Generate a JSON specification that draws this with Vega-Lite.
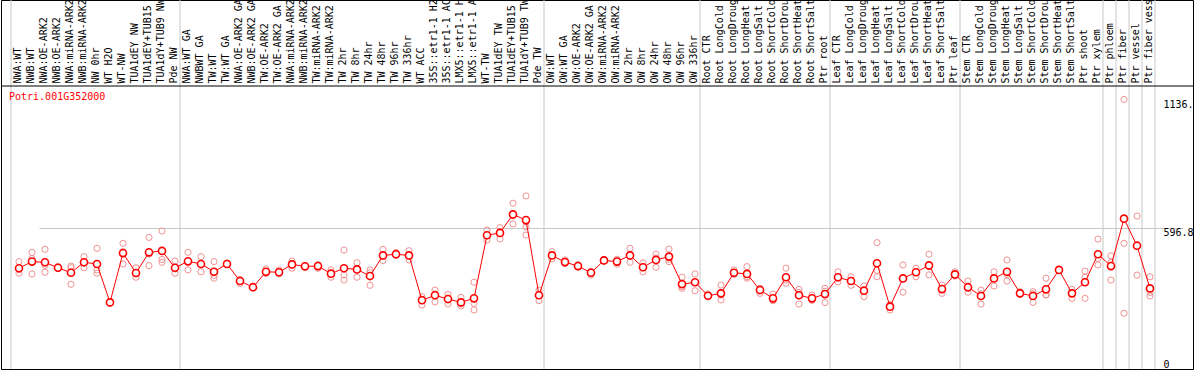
{
  "$schema": "https://vega.github.io/schema/vega-lite/v6.json",
  "width": 1192,
  "height": 369,
  "padding": {"left": 1, "top": 0, "right": 1, "bottom": 1},
  "autosize": {"type": "none"},
  "background": "white",
  "config": {"view": {"stroke": "black", "strokeWidth": 1}},
  "datasets": {
    "samples": [
      {"i":1,"sample":"NWA:WT","group":1,"mean":425},
      {"i":2,"sample":"NWB:WT","group":1,"mean":453},
      {"i":3,"sample":"NWA:OE-ARK2","group":1,"mean":450},
      {"i":4,"sample":"NWB:OE-ARK2","group":1,"mean":427},
      {"i":5,"sample":"NWA:miRNA-ARK2","group":1,"mean":406},
      {"i":6,"sample":"NWB:miRNA-ARK2","group":1,"mean":450},
      {"i":7,"sample":"NW 0hr","group":1,"mean":443},
      {"i":8,"sample":"WT H2O","group":1,"mean":281},
      {"i":9,"sample":"WT-NW","group":1,"mean":489},
      {"i":10,"sample":"TUA1dEY NW","group":1,"mean":405},
      {"i":11,"sample":"TUA1dEY+TUB15 NW","group":1,"mean":492},
      {"i":12,"sample":"TUA1dY+TUB9 NW","group":1,"mean":498},
      {"i":13,"sample":"Pde NW","group":1,"mean":427},
      {"i":14,"sample":"NWA:WT GA","group":2,"mean":454},
      {"i":15,"sample":"NWBWT GA","group":2,"mean":443},
      {"i":16,"sample":"TW:WT","group":2,"mean":410},
      {"i":17,"sample":"TW:WT GA","group":2,"mean":443},
      {"i":18,"sample":"NWA:OE-ARK2 GA","group":2,"mean":371},
      {"i":19,"sample":"NWB:OE-ARK2 GA","group":2,"mean":345},
      {"i":20,"sample":"TW:OE-ARK2","group":2,"mean":410},
      {"i":21,"sample":"TW:OE-ARK2 GA","group":2,"mean":408},
      {"i":22,"sample":"NWA:miRNA-ARK2 GA","group":2,"mean":441},
      {"i":23,"sample":"NWB:miRNA-ARK2 GA","group":2,"mean":433},
      {"i":24,"sample":"TW:miRNA-ARK2","group":2,"mean":434},
      {"i":25,"sample":"TW:miRNA-ARK2 ","group":2,"mean":402},
      {"i":26,"sample":"TW 2hr","group":2,"mean":425},
      {"i":27,"sample":"TW 8hr","group":2,"mean":420},
      {"i":28,"sample":"TW 24hr","group":2,"mean":392},
      {"i":29,"sample":"TW 48hr","group":2,"mean":479},
      {"i":30,"sample":"TW 96hr","group":2,"mean":484},
      {"i":31,"sample":"TW 336hr","group":2,"mean":479},
      {"i":32,"sample":"WT ACC","group":2,"mean":290},
      {"i":33,"sample":"35S::etr1-1 H2O","group":2,"mean":311},
      {"i":34,"sample":"35S::etr1-1 ACC","group":2,"mean":295},
      {"i":35,"sample":"LMX5::etr1-1 H2O","group":2,"mean":281},
      {"i":36,"sample":"LMX5::etr1-1 ACC","group":2,"mean":298},
      {"i":37,"sample":"WT-TW","group":2,"mean":564},
      {"i":38,"sample":"TUA1dEY TW","group":2,"mean":574},
      {"i":39,"sample":"TUA1dEY+TUB15 TW","group":2,"mean":652},
      {"i":40,"sample":"TUA1dY+TUB9 TW","group":2,"mean":628},
      {"i":41,"sample":"Pde TW","group":2,"mean":311},
      {"i":42,"sample":"OW:WT","group":3,"mean":479},
      {"i":43,"sample":"OW:WT GA","group":3,"mean":451},
      {"i":44,"sample":"OW:OE-ARK2","group":3,"mean":434},
      {"i":45,"sample":"OW:OE-ARK2 GA","group":3,"mean":406},
      {"i":46,"sample":"OW:miRNA-ARK2","group":3,"mean":458},
      {"i":47,"sample":"OW:miRNA-ARK2 ","group":3,"mean":453},
      {"i":48,"sample":"OW 2hr","group":3,"mean":479},
      {"i":49,"sample":"OW 8hr","group":3,"mean":429},
      {"i":50,"sample":"OW 24hr","group":3,"mean":460},
      {"i":51,"sample":"OW 48hr","group":3,"mean":474},
      {"i":52,"sample":"OW 96hr","group":3,"mean":358},
      {"i":53,"sample":"OW 336hr","group":3,"mean":366},
      {"i":54,"sample":"Root CTR","group":4,"mean":309},
      {"i":55,"sample":"Root LongCold","group":4,"mean":319},
      {"i":56,"sample":"Root LongDrought","group":4,"mean":406},
      {"i":57,"sample":"Root LongHeat","group":4,"mean":401},
      {"i":58,"sample":"Root LongSalt","group":4,"mean":333},
      {"i":59,"sample":"Root ShortCold","group":4,"mean":298},
      {"i":60,"sample":"Root ShortDrought","group":4,"mean":387},
      {"i":61,"sample":"Root ShortHeat","group":4,"mean":311},
      {"i":62,"sample":"Root ShortSalt","group":4,"mean":298},
      {"i":63,"sample":"Ptr root","group":4,"mean":316},
      {"i":64,"sample":"Leaf CTR","group":5,"mean":387},
      {"i":65,"sample":"Leaf LongCold","group":5,"mean":371},
      {"i":66,"sample":"Leaf LongDrought","group":5,"mean":330},
      {"i":67,"sample":"Leaf LongHeat","group":5,"mean":446},
      {"i":68,"sample":"Leaf LongSalt","group":5,"mean":263},
      {"i":69,"sample":"Leaf ShortCold","group":5,"mean":382},
      {"i":70,"sample":"Leaf ShortDrought","group":5,"mean":408},
      {"i":71,"sample":"Leaf ShortHeat","group":5,"mean":437},
      {"i":72,"sample":"Leaf ShortSalt","group":5,"mean":337},
      {"i":73,"sample":"Ptr leaf","group":5,"mean":399},
      {"i":74,"sample":"Stem CTR","group":6,"mean":345},
      {"i":75,"sample":"Stem LongCold","group":6,"mean":308},
      {"i":76,"sample":"Stem LongDrought","group":6,"mean":382},
      {"i":77,"sample":"Stem LongHeat","group":6,"mean":410},
      {"i":78,"sample":"Stem LongSalt","group":6,"mean":319},
      {"i":79,"sample":"Stem ShortCold","group":6,"mean":308},
      {"i":80,"sample":"Stem ShortDrought","group":6,"mean":336},
      {"i":81,"sample":"Stem ShortHeat","group":6,"mean":418},
      {"i":82,"sample":"Stem ShortSalt","group":6,"mean":319},
      {"i":83,"sample":"Ptr shoot","group":6,"mean":366},
      {"i":84,"sample":"Ptr xylem","group":6,"mean":484},
      {"i":85,"sample":"Ptr phloem","group":7,"mean":434},
      {"i":86,"sample":"Ptr fiber","group":8,"mean":634},
      {"i":87,"sample":"Ptr vessel","group":9,"mean":520},
      {"i":88,"sample":"Ptr fiber vessel","group":10,"mean":340}
    ],
    "reps": [
      {"i":1,"value":453},{"i":1,"value":404},{"i":1,"value":419},
      {"i":2,"value":492},{"i":2,"value":401},{"i":2,"value":466},
      {"i":3,"value":505},{"i":3,"value":408},{"i":3,"value":437},
      {"i":4,"value":432},{"i":4,"value":424},{"i":4,"value":425},
      {"i":5,"value":434},{"i":5,"value":357},{"i":5,"value":427},
      {"i":6,"value":474},{"i":6,"value":427},{"i":6,"value":449},
      {"i":7,"value":509},{"i":7,"value":418},{"i":7,"value":404},
      {"i":8,"value":285},{"i":8,"value":278},{"i":8,"value":280},
      {"i":9,"value":530},{"i":9,"value":443},{"i":9,"value":494},
      {"i":10,"value":427},{"i":10,"value":387},{"i":10,"value":401},
      {"i":11,"value":555},{"i":11,"value":436},{"i":11,"value":485},
      {"i":12,"value":582},{"i":12,"value":462},{"i":12,"value":450},
      {"i":13,"value":455},{"i":13,"value":404},{"i":13,"value":422},
      {"i":14,"value":492},{"i":14,"value":418},{"i":14,"value":452},
      {"i":15,"value":474},{"i":15,"value":410},{"i":15,"value":445},
      {"i":16,"value":453},{"i":16,"value":383},{"i":16,"value":395},
      {"i":17,"value":447},{"i":17,"value":440},{"i":17,"value":442},
      {"i":18,"value":361},{"i":18,"value":378},{"i":18,"value":374},
      {"i":19,"value":348},{"i":19,"value":342},{"i":19,"value":345},
      {"i":20,"value":422},{"i":20,"value":405},{"i":20,"value":403},
      {"i":21,"value":418},{"i":21,"value":401},{"i":21,"value":405},
      {"i":22,"value":455},{"i":22,"value":425},{"i":22,"value":443},
      {"i":23,"value":436},{"i":23,"value":430},{"i":23,"value":433},
      {"i":24,"value":425},{"i":24,"value":440},{"i":24,"value":437},
      {"i":25,"value":418},{"i":25,"value":387},{"i":25,"value":402},
      {"i":26,"value":502},{"i":26,"value":397},{"i":26,"value":375},
      {"i":27,"value":448},{"i":27,"value":387},{"i":27,"value":425},
      {"i":28,"value":418},{"i":28,"value":353},{"i":28,"value":406},
      {"i":29,"value":505},{"i":29,"value":457},{"i":29,"value":475},
      {"i":30,"value":492},{"i":30,"value":480},{"i":30,"value":480},
      {"i":31,"value":499},{"i":31,"value":460},{"i":31,"value":478},
      {"i":32,"value":305},{"i":32,"value":270},{"i":32,"value":295},
      {"i":33,"value":333},{"i":33,"value":283},{"i":33,"value":317},
      {"i":34,"value":315},{"i":34,"value":274},{"i":34,"value":296},
      {"i":35,"value":266},{"i":35,"value":302},{"i":35,"value":275},
      {"i":36,"value":366},{"i":36,"value":249},{"i":36,"value":277},
      {"i":37,"value":586},{"i":37,"value":544},{"i":37,"value":562},
      {"i":38,"value":596},{"i":38,"value":548},{"i":38,"value":578},
      {"i":39,"value":699},{"i":39,"value":612},{"i":39,"value":646},
      {"i":40,"value":730},{"i":40,"value":620},{"i":40,"value":600},{"i":40,"value":565},
      {"i":41,"value":333},{"i":41,"value":288},{"i":41,"value":312},
      {"i":42,"value":495},{"i":42,"value":464},{"i":42,"value":478},
      {"i":43,"value":460},{"i":43,"value":445},{"i":43,"value":448},
      {"i":44,"value":440},{"i":44,"value":430},{"i":44,"value":432},
      {"i":45,"value":396},{"i":45,"value":412},{"i":45,"value":410},
      {"i":46,"value":462},{"i":46,"value":455},{"i":46,"value":457},
      {"i":47,"value":463},{"i":47,"value":442},{"i":47,"value":454},
      {"i":48,"value":509},{"i":48,"value":450},{"i":48,"value":478},
      {"i":49,"value":448},{"i":49,"value":410},{"i":49,"value":429},
      {"i":50,"value":484},{"i":50,"value":429},{"i":50,"value":467},
      {"i":51,"value":506},{"i":51,"value":453},{"i":51,"value":463},
      {"i":52,"value":387},{"i":52,"value":340},{"i":52,"value":347},
      {"i":53,"value":401},{"i":53,"value":330},{"i":53,"value":367},
      {"i":54,"value":316},{"i":54,"value":305},{"i":54,"value":306},
      {"i":55,"value":354},{"i":55,"value":291},{"i":55,"value":312},
      {"i":56,"value":418},{"i":56,"value":400},{"i":56,"value":400},
      {"i":57,"value":432},{"i":57,"value":383},{"i":57,"value":389},
      {"i":58,"value":319},{"i":58,"value":340},{"i":58,"value":340},
      {"i":59,"value":316},{"i":59,"value":290},{"i":59,"value":288},
      {"i":60,"value":425},{"i":60,"value":362},{"i":60,"value":375},
      {"i":61,"value":336},{"i":61,"value":274},{"i":61,"value":323},
      {"i":62,"value":312},{"i":62,"value":292},{"i":62,"value":290},
      {"i":63,"value":340},{"i":63,"value":280},{"i":63,"value":328},
      {"i":64,"value":410},{"i":64,"value":368},{"i":64,"value":383},
      {"i":65,"value":389},{"i":65,"value":353},{"i":65,"value":371},
      {"i":66,"value":350},{"i":66,"value":305},{"i":66,"value":335},
      {"i":67,"value":533},{"i":67,"value":389},{"i":67,"value":416},
      {"i":68,"value":249},{"i":68,"value":270},{"i":68,"value":270},
      {"i":69,"value":439},{"i":69,"value":324},{"i":69,"value":384},
      {"i":70,"value":425},{"i":70,"value":389},{"i":70,"value":410},
      {"i":71,"value":484},{"i":71,"value":397},{"i":71,"value":431},
      {"i":72,"value":354},{"i":72,"value":319},{"i":72,"value":338},
      {"i":73,"value":410},{"i":73,"value":392},{"i":73,"value":395},
      {"i":74,"value":371},{"i":74,"value":324},{"i":74,"value":340},
      {"i":75,"value":333},{"i":75,"value":274},{"i":75,"value":317},
      {"i":76,"value":410},{"i":76,"value":350},{"i":76,"value":386},
      {"i":77,"value":460},{"i":77,"value":371},{"i":77,"value":399},
      {"i":78,"value":326},{"i":78,"value":315},{"i":78,"value":316},
      {"i":79,"value":326},{"i":79,"value":281},{"i":79,"value":317},
      {"i":80,"value":383},{"i":80,"value":312},{"i":80,"value":313},
      {"i":81,"value":420},{"i":81,"value":416},{"i":81,"value":418},
      {"i":82,"value":336},{"i":82,"value":298},{"i":82,"value":323},
      {"i":83,"value":413},{"i":83,"value":298},{"i":83,"value":387},
      {"i":84,"value":548},{"i":84,"value":439},{"i":84,"value":466},
      {"i":85,"value":477},{"i":85,"value":375},{"i":85,"value":450},
      {"i":86,"value":1136.8},{"i":86,"value":530},{"i":86,"value":235},
      {"i":87,"value":645},{"i":87,"value":396},
      {"i":88,"value":389},{"i":88,"value":308},{"i":88,"value":323}
    ]
  },
  "layer": [
    {
      "data": {"name": "samples"},
      "transform": [
        {"window": [{"op": "row_number", "as": "rn"}], "groupby": ["group"], "sort": [{"field": "i"}]},
        {"filter": "datum.rn == 1"}
      ],
      "mark": {"type": "rule", "color": "#c8c8c8", "strokeWidth": 1},
      "encoding": {
        "x": {
          "field": "sample", "type": "nominal", "sort": {"field": "i", "op": "min"}, "bandPosition": 0,
          "scale": {"type": "band", "range": [10, 1154], "paddingInner": 0, "paddingOuter": 0},
          "title": null,
          "axis": {
            "orient": "top", "offset": -86, "labelAngle": 270, "labelAlign": "left", "labelBaseline": "middle",
            "labelPadding": 3, "ticks": false, "domain": false, "grid": false,
            "labelFont": "DejaVu Sans Mono", "labelFontSize": 10, "labelColor": "black",
            "labelOverlap": false, "labelLimit": 300, "labelBound": false, "title": null
          }
        }
      }
    },
    {
      "data": {"name": "samples"},
      "transform": [
        {"window": [{"op": "row_number", "as": "rn"}], "sort": [{"field": "i", "order": "descending"}]},
        {"filter": "datum.rn == 1"}
      ],
      "mark": {"type": "rule", "color": "#c8c8c8", "strokeWidth": 1},
      "encoding": {
        "x": {"field": "sample", "type": "nominal", "sort": {"field": "i", "op": "min"}, "bandPosition": 1, "title": null}
      }
    },
    {
      "data": {"name": "samples"},
      "transform": [{"filter": "datum.i == 1"}],
      "mark": {"type": "rule", "color": "black", "strokeWidth": 1},
      "encoding": {
        "y": {"datum": 1193.6, "type": "quantitative", "title": null}
      }
    },
    {
      "data": {"name": "reps"},
      "transform": [
        {"lookup": "i", "from": {"data": {"name": "samples"}, "key": "i", "fields": ["sample"]}}
      ],
      "mark": {"type": "point", "shape": "circle", "filled": false, "stroke": "#ef9393", "strokeWidth": 1, "size": 38, "opacity": 1},
      "encoding": {
        "x": {"field": "sample", "type": "nominal", "sort": {"field": "i", "op": "min"}, "bandPosition": 0.615, "title": null},
        "y": {
          "field": "value", "type": "quantitative", "title": null,
          "scale": {"domain": [0, 1193.6], "range": [369, 86], "nice": false, "zero": false},
          "axis": {
            "orient": "right", "offset": -36, "values": [0, 596.8, 1136.8],
            "labelExpr": "datum.value == 0 ? '0' : slice(toString(datum.value), 0, 5)",
            "ticks": false, "domain": false, "grid": true, "gridColor": "#c8c8c8",
            "gridOpacity": {"condition": {"test": "datum.value == 596.8", "value": 1}, "value": 0},
            "labelBaseline": {"condition": {"test": "datum.value == 0", "value": "bottom"}, "value": "top"},
            "labelPadding": 6, "labelAlign": "left", "labelFont": "DejaVu Sans Mono", "labelFontSize": 10,
            "labelColor": "black", "labelOverlap": false, "labelFlush": false, "title": null
          }
        }
      }
    },
    {
      "data": {"name": "samples"},
      "mark": {"type": "line", "color": "#ff0000", "strokeWidth": 1},
      "encoding": {
        "x": {"field": "sample", "type": "nominal", "sort": {"field": "i", "op": "min"}, "bandPosition": 0.615, "title": null},
        "y": {"field": "mean", "type": "quantitative", "title": null},
        "order": {"field": "i", "type": "quantitative"}
      }
    },
    {
      "data": {"name": "samples"},
      "mark": {"type": "point", "shape": "circle", "filled": true, "fill": "white", "stroke": "#ff0000", "strokeWidth": 1.6, "size": 50, "opacity": 1},
      "encoding": {
        "x": {"field": "sample", "type": "nominal", "sort": {"field": "i", "op": "min"}, "bandPosition": 0.615, "title": null},
        "y": {"field": "mean", "type": "quantitative", "title": null}
      }
    },
    {
      "data": {"name": "samples"},
      "transform": [{"filter": "datum.i == 1"}],
      "mark": {"type": "text", "text": "Potri.001G352000", "color": "#ff0000", "font": "DejaVu Sans Mono", "fontSize": 10, "align": "left", "baseline": "middle", "dx": -2},
      "encoding": {
        "x": {"field": "sample", "type": "nominal", "sort": {"field": "i", "op": "min"}, "bandPosition": 0, "title": null},
        "y": {"datum": 1147, "type": "quantitative", "title": null}
      }
    }
  ]
}
